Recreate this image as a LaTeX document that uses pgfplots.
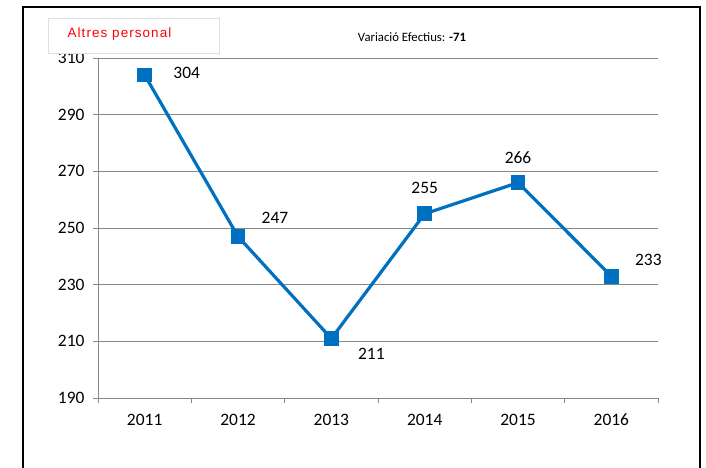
\documentclass[border=0pt]{standalone}
\usepackage{pgfplots}
\pgfplotsset{compat=1.18}
\usepackage{fontspec}
\setmainfont{Carlito}
\newfontfamily\arialf[LetterSpace=8]{Liberation Sans}
\definecolor{lineblue}{RGB}{0,112,192}
\definecolor{gridgray}{RGB}{134,134,134}
\begin{document}
\begin{tikzpicture}[x=1bp,y=1bp]
\useasboundingbox (-98,-70) rectangle (608,398);
\draw[line width=1.5bp] (-75,-71) -- (-75,391) -- (602,391) -- (602,-71);
\begin{axis}[
  at={(0,0)}, anchor=south west,
  scale only axis, width=560bp, height=340bp,
  xmin=0, xmax=6, ymin=190, ymax=310,
  xtick={0,1,2,3,4,5,6}, xticklabels={},
  extra x ticks={0.5,1.5,2.5,3.5,4.5,5.5},
  extra x tick labels={2011,2012,2013,2014,2015,2016},
  extra x tick style={major tick length=0pt, grid=none},
  ytick={190,210,...,310},
  ymajorgrids, major grid style={gridgray, line width=0.8bp},
  axis x line*=bottom, axis y line*=left,
  axis line style={gridgray, line width=0.8bp, -},
  tick style={gridgray, line width=0.8bp},
  major tick length=5bp,
  xtick pos=bottom, ytick pos=left,
  tick align=outside,
  /pgf/number format/assume math mode=true,
  x tick label style={font=\fontsize{17.5}{17.5}\selectfont, anchor=base, yshift=-28bp, text height=12bp, text depth=0bp},
  y tick label style={font=\fontsize{17.5}{17.5}\selectfont, xshift=-5bp},
  clip=false,
  nodes near coords,
  every node near coord/.append style={font=\fontsize{17.5}{17.5}\selectfont, black},
]
\addplot[lineblue, line width=3.2bp, mark=square*, mark size=5.8bp,
  mark options={fill=lineblue, solid},
  visualization depends on={value \thisrow{ax} \as \ax},
  visualization depends on={value \thisrow{ay} \as \ay},
  every node near coord/.append style={xshift=\ax bp, yshift=\ay bp, anchor=center}]
table[x=x, y=y] {
x y ax ay
0.5 304 42 2
1.5 247 37 19
2.5 211 40 -15
3.5 255 0 26
4.5 266 0 25
5.5 233 37 16
};
\end{axis}
\draw[draw=black!12, fill=white] (-50,345) rectangle (121,380);
\node[font=\arialf\fontsize{13.5}{13.5}\selectfont, text=red] at (21.5,364) {Altres personal};
\node[font=\fontsize{12.8}{12.8}\selectfont] at (314,361) {Variació Efectius: \textbf{-71}};
\end{tikzpicture}
\end{document}
